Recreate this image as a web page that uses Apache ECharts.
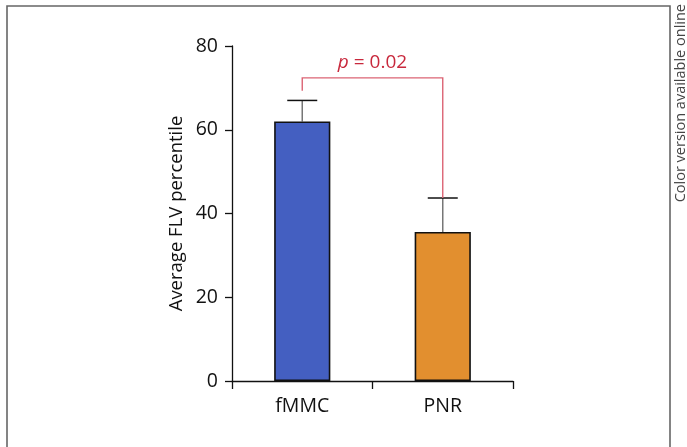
<!DOCTYPE html>
<html><head><meta charset="utf-8">
<script src="https://cdn.jsdelivr.net/npm/echarts@6/dist/echarts.min.js"></script>
<style>html,body{margin:0;padding:0;background:#fff}#c{width:687px;height:447px}</style>
</head><body><div id="c"></div>
<script>
const categories = ['fMMC', 'PNR'];
const means = [62, 35.6];
const errTop = [67, 43.7];
const yTicks = [0, 20, 40, 60, 80];
const barColors = ['#445fc1', '#e28f2f'];
const bracket = { top: 72.4, leftEnd: 69.3, rightEnd: 43.7, label: '0.02' };

const chart = echarts.init(document.getElementById('c'));
const font = '"Open Sans", "Noto Sans", sans-serif';

chart.setOption({
  animation: false,
  grid: { left: 232, right: 174, top: 46, bottom: 66 },
  xAxis: {
    type: 'category', data: categories, boundaryGap: true,
    axisLine: { lineStyle: { color: '#111', width: 1.3 } },
    axisTick: { show: true, length: 8, lineStyle: { color: '#111', width: 1.3 } },
    axisLabel: { color: '#111', fontSize: 19.5, fontFamily: font, margin: 15 }
  },
  yAxis: {
    type: 'value', min: yTicks[0], max: yTicks[yTicks.length - 1], interval: 20,
    name: 'Average FLV percentile', nameLocation: 'middle', nameGap: 46,
    nameTextStyle: { color: '#111', fontSize: 18.5, fontFamily: font },
    splitLine: { show: false },
    axisLine: { show: true, lineStyle: { color: '#111', width: 1.3 } },
    axisTick: { show: true, length: 7, lineStyle: { color: '#111', width: 1.3 } },
    axisLabel: { color: '#111', fontSize: 19.5, fontFamily: font, margin: 14 }
  },
  series: [
    {
      type: 'bar', barWidth: '40%',
      data: means.map((v, i) => ({ value: v, itemStyle: { color: barColors[i] } })),
      itemStyle: { borderColor: '#111', borderWidth: 1.6 },
      z: 3
    },
    {
      type: 'custom', z: 2,
      data: categories.map((c, i) => [i, means[i], errTop[i]]),
      renderItem: function (params, api) {
        const p0 = api.coord([api.value(0), api.value(1)]);
        const p1 = api.coord([api.value(0), api.value(2)]);
        return {
          type: 'group', children: [
            { type: 'line', shape: { x1: p0[0], y1: p0[1], x2: p1[0], y2: p1[1] }, style: { stroke: '#777', lineWidth: 1.5 } },
            { type: 'line', shape: { x1: p1[0] - 15, y1: p1[1], x2: p1[0] + 15, y2: p1[1] }, style: { stroke: '#111', lineWidth: 1.5 } }
          ]
        };
      }
    },
    {
      type: 'custom', z: 4,
      data: [[0, 1, bracket.top, bracket.leftEnd, bracket.rightEnd]],
      renderItem: function (params, api) {
        const a = api.coord([api.value(0), api.value(3)]);
        const b = api.coord([api.value(1), api.value(4)]);
        const ty = api.coord([0, api.value(2)])[1];
        return {
          type: 'group', children: [
            { type: 'polyline', shape: { points: [[a[0], a[1]], [a[0], ty], [b[0], ty], [b[0], b[1]]] }, style: { stroke: '#dc6474', lineWidth: 1.4, fill: null } },
            { type: 'text', x: (a[0] + b[0]) / 2, y: ty - 6, style: {
              text: '{i|p} = ' + bracket.label, textAlign: 'center', textVerticalAlign: 'bottom',
              fill: '#c8283c', fontSize: 19, fontFamily: font,
              rich: { i: { fontStyle: 'italic', fontSize: 19, fontFamily: font, fill: '#c8283c' } }
            } }
          ]
        };
      }
    }
  ],
  graphic: [
    { type: 'polyline', shape: { points: [[7, 447], [7, 6], [670, 6], [670, 447]] }, style: { stroke: '#666', lineWidth: 1.6, fill: null } },
    { type: 'text', x: 681, y: 4, rotation: Math.PI / 2, style: { text: 'Color version available online', textAlign: 'right', textVerticalAlign: 'middle', fill: '#444', fontSize: 14.5, fontFamily: font } }
  ]
});
</script></body></html>
